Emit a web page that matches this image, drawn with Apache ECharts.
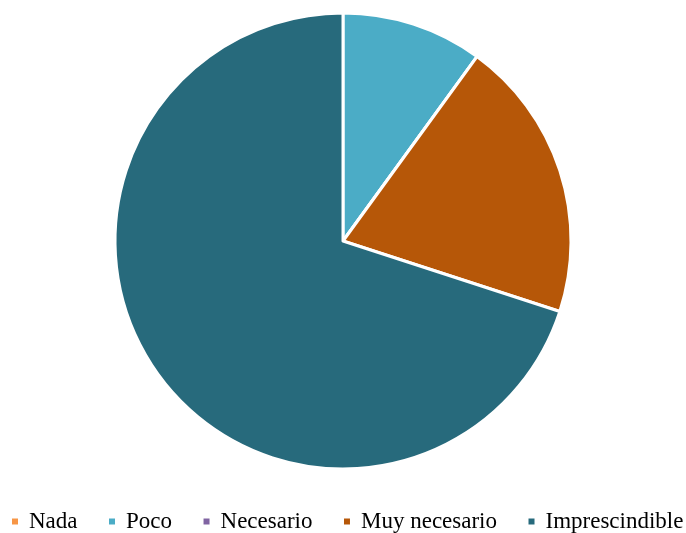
<!DOCTYPE html>
<html><head><meta charset="utf-8">
<script src="https://cdn.jsdelivr.net/npm/echarts@6/dist/echarts.min.js"></script>
<style>html,body{margin:0;padding:0;background:#fff}#c{width:686px;height:533px}</style>
</head><body><div id="c"></div>
<script>
const categories = ['Nada', 'Poco', 'Necesario', 'Muy necesario', 'Imprescindible'];
const values = [0, 10, 0, 20, 70];
const colors = ['#f79646', '#4bacc6', '#8064a2', '#b65708', '#276a7c'];

const chart = echarts.init(document.getElementById('c'));
chart.setOption({
  animation: false,
  legend: {
    left: 12, top: 510, padding: 0, width: 680,
    itemWidth: 6, itemHeight: 6, itemGap: 31.5,
    icon: 'rect',
    itemStyle: { borderWidth: 0 },
    textStyle: { fontFamily: 'Liberation Serif', fontSize: 23, color: '#000', padding: [0,0,0,6] },
    data: categories
  },
  series: [{
    type: 'pie',
    center: [343, 241],
    radius: 228,
    startAngle: 90,
    clockwise: true,
    label: { show: false },
    labelLine: { show: false },
    itemStyle: { borderColor: '#fff', borderWidth: 3 },
    data: categories.map((c, i) => ({ name: c, value: values[i], itemStyle: { color: colors[i] } }))
  }]
});
</script></body></html>
